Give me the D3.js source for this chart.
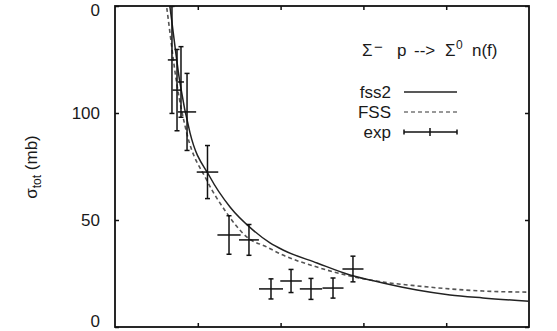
<!DOCTYPE html>
<html>
<head>
<meta charset="utf-8">
<script src="https://cdn.jsdelivr.net/npm/d3@7"></script>
<style>
    body { margin: 0; background: #fff; }
    text { font-family: "Liberation Sans", Arial, sans-serif; fill: #1a1a1a; }
</style>
</head>
<body>
<script>
// measured points (p_lab, sigma_tot in mb)
const expP = [68.8, 74.9, 79.7, 87, 111.7, 137.7, 161.8, 188.4, 212.6, 236.7, 263.3, 287.4];
const expSigma = [124.8, 110.7, 114.5, 100.5, 72.4, 43, 40.7, 17.8, 21.5, 17.8, 18.2, 27.1];
const expSigmaErr = [25, 19, 16.5, 18, 12.4, 9, 7.2, 4.7, 5.4, 4.9, 4.7, 6];
const expPErr = [5, 5.4, 3.6, 11, 13, 14, 12, 14.5, 13, 13.5, 12.7, 12.7];

// fss2 model curve
const fss2P = [62, 66.4, 78.5, 90.6, 114.7, 138.9, 166.7, 187.2, 202.9, 244, 283.8, 323.7, 364.7, 404.6, 444.4, 500];
const fss2Sigma = [162, 149.5, 114, 90.7, 70.1, 56.1, 45.3, 39.3, 36.0, 29.9, 24.3, 20.6, 17.3, 15.0, 13.6, 12.0];

// FSS model curve
const fssP = [58, 62.4, 74.5, 86.6, 110.7, 134.9, 159.1, 183.2, 202.9, 244, 283.8, 323.7, 364.7, 404.6, 444.4, 500];
const fssSigma = [162, 149.5, 114, 90.7, 68.7, 53.3, 42.1, 37.4, 33.6, 28.0, 23.8, 21.0, 19.2, 17.8, 16.8, 16.3];

const xTicks = [100, 200, 300, 400];
const yTicks = [0, 50, 100, 150];
const yTickLabels = ["0", "50", "100", "0"];

document.addEventListener('DOMContentLoaded', function () {
    const w = 557;
    const h = 331;
    const left = 115, right = 529, top = 6, bottom = 327;

    var svg = d3.select('body').append("svg")
        .attr("width", w).attr("height", h);

    var xScale = d3.scaleLinear().domain([0, 500]).range([left, right]);
    var yScale = d3.scaleLinear().domain([0, 150]).range([bottom, top]);

    svg.append("defs").append("clipPath").attr("id", "plot-clip")
        .append("rect")
        .attr("x", left).attr("y", top)
        .attr("width", right - left).attr("height", bottom - top);

    // inward ticks on all four sides, no x labels visible
    var tickLen = 4;
    var bottomAxis = d3.axisTop(xScale).tickValues(xTicks).tickSize(tickLen).tickFormat("");
    var topAxis = d3.axisBottom(xScale).tickValues(xTicks).tickSize(tickLen).tickFormat("");
    var leftAxis = d3.axisRight(yScale).tickValues(yTicks).tickSize(tickLen).tickFormat("");
    var rightAxis = d3.axisLeft(yScale).tickValues(yTicks).tickSize(tickLen).tickFormat("");

    svg.append("g").attr("transform", "translate(0," + bottom + ")").call(bottomAxis);
    svg.append("g").attr("transform", "translate(0," + top + ")").call(topAxis);
    svg.append("g").attr("transform", "translate(" + left + ",0)").call(leftAxis);
    svg.append("g").attr("transform", "translate(" + right + ",0)").call(rightAxis);
    svg.selectAll(".domain").remove();
    svg.selectAll(".tick line").attr("stroke", "#111").attr("stroke-width", 1.5);

    // frame
    svg.append("rect")
        .attr("x", left).attr("y", top)
        .attr("width", right - left).attr("height", bottom - top)
        .attr("fill", "none").attr("stroke", "#111").attr("stroke-width", 1.8);

    // y tick labels (edge ones nudged inside the window)
    svg.selectAll(".ylab")
        .data(yTicks)
        .enter()
        .append("text")
        .attr("class", "ylab")
        .attr("x", 100)
        .attr("y", (d) => Math.min(Math.max(yScale(d), 10), 321))
        .attr("dy", "0.36em")
        .attr("text-anchor", "end")
        .attr("font-size", 17)
        .text((d, i) => yTickLabels[i]);

    // y axis title
    var yt = svg.append("text")
        .attr("transform", "translate(37,167) rotate(-90)")
        .attr("text-anchor", "middle")
        .attr("font-size", 17);
    yt.append("tspan").text("σ");
    yt.append("tspan").attr("font-size", 12).attr("dy", 4).text("tot");
    yt.append("tspan").attr("dy", -4).text(" (mb)");

    var plot = svg.append("g").attr("clip-path", "url(#plot-clip)");

    var line = d3.line()
        .x((d) => xScale(d[0]))
        .y((d) => yScale(d[1]))
        .curve(d3.curveMonotoneX);

    plot.append("path")
        .datum(fssP.map((p, i) => [p, fssSigma[i]]))
        .attr("d", line)
        .attr("fill", "none")
        .attr("stroke", "#555")
        .attr("stroke-width", 1.6)
        .attr("stroke-dasharray", "4,3");

    plot.append("path")
        .datum(fss2P.map((p, i) => [p, fss2Sigma[i]]))
        .attr("d", line)
        .attr("fill", "none")
        .attr("stroke", "#222")
        .attr("stroke-width", 1.5);

    // error bars
    var expData = expP.map((p, i) => ({p: p, s: expSigma[i], ds: expSigmaErr[i], dp: expPErr[i]}));
    var cap = 2.5;
    var eb = plot.selectAll(".errbar")
        .data(expData)
        .enter()
        .append("g")
        .attr("class", "errbar")
        .attr("stroke", "#111")
        .attr("stroke-width", 1.5);
    eb.append("line")
        .attr("x1", (d) => xScale(d.p)).attr("x2", (d) => xScale(d.p))
        .attr("y1", (d) => yScale(d.s - d.ds)).attr("y2", (d) => yScale(d.s + d.ds));
    eb.append("line")
        .attr("x1", (d) => xScale(d.p - d.dp)).attr("x2", (d) => xScale(d.p + d.dp))
        .attr("y1", (d) => yScale(d.s)).attr("y2", (d) => yScale(d.s));
    eb.append("line")
        .attr("x1", (d) => xScale(d.p) - cap).attr("x2", (d) => xScale(d.p) + cap)
        .attr("y1", (d) => yScale(d.s - d.ds)).attr("y2", (d) => yScale(d.s - d.ds));
    eb.append("line")
        .attr("x1", (d) => xScale(d.p) - cap).attr("x2", (d) => xScale(d.p) + cap)
        .attr("y1", (d) => yScale(d.s + d.ds)).attr("y2", (d) => yScale(d.s + d.ds));

    // legend title, pieces placed like the original
    var title = svg.append("text")
        .attr("y", 56)
        .attr("font-size", 17);
    title.append("tspan").attr("x", 362).text("Σ");
    title.append("tspan").attr("x", 374).attr("dy", -4).attr("font-size", 15).text("−");
    title.append("tspan").attr("x", 397).attr("dy", 4).text("p");
    title.append("tspan").attr("x", 414).text("-->");
    title.append("tspan").attr("x", 445).text("Σ");
    title.append("tspan").attr("x", 456).attr("dy", -7).attr("font-size", 12).text("0");
    title.append("tspan").attr("x", 472).attr("dy", 7).text("n(f)");

    // legend entries
    const lx0 = 404, lx1 = 457;
    const legendNames = ["fss2", "FSS", "exp"];
    const legendY = [92, 112, 132];
    svg.selectAll(".legtext")
        .data(legendNames)
        .enter()
        .append("text")
        .attr("class", "legtext")
        .attr("x", 391)
        .attr("y", (d, i) => legendY[i])
        .attr("dy", "0.36em")
        .attr("text-anchor", "end")
        .attr("font-size", 17)
        .text((d) => d);

    svg.append("line")
        .attr("x1", lx0).attr("x2", lx1).attr("y1", legendY[0]).attr("y2", legendY[0])
        .attr("stroke", "#222").attr("stroke-width", 1.5);
    svg.append("line")
        .attr("x1", lx0).attr("x2", lx1).attr("y1", legendY[1]).attr("y2", legendY[1])
        .attr("stroke", "#777").attr("stroke-width", 1.6).attr("stroke-dasharray", "4,3");
    var le = svg.append("g").attr("stroke", "#111").attr("stroke-width", 1.5);
    le.append("line").attr("x1", lx0).attr("x2", lx1).attr("y1", legendY[2]).attr("y2", legendY[2]);
    le.append("line").attr("x1", lx0).attr("x2", lx0).attr("y1", legendY[2] - 2.5).attr("y2", legendY[2] + 2.5);
    le.append("line").attr("x1", lx1).attr("x2", lx1).attr("y1", legendY[2] - 2.5).attr("y2", legendY[2] + 2.5);
    le.append("line").attr("x1", 430).attr("x2", 430).attr("y1", legendY[2] - 4).attr("y2", legendY[2] + 4);
});
</script>
</body>
</html>
